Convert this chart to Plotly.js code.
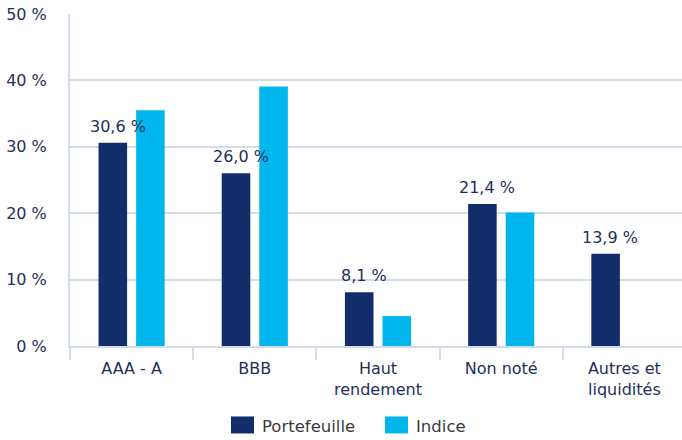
<!DOCTYPE html>
<html>
<head>
<meta charset="utf-8">
<script src="https://cdn.plot.ly/plotly-3.0.1.min.js"></script>
<style>
html,body{margin:0;padding:0;overflow:hidden;background:#fff;}
#chart{width:686px;height:440px;}
</style>
</head>
<body>
<div id="chart"></div>
<script>
const categories = ["AAA - A", "BBB", "Haut<br>rendement", "Non noté", "Autres et<br>liquidités"];
const portefeuille = [30.6, 26.0, 8.1, 21.4, 13.9];
const indice = [35.5, 39.1, 4.5, 20.1, null];
const seriesNames = ["Portefeuille", "Indice"];
const yTicks = [0, 10, 20, 30, 40, 50];
const yTickLabels = ["0 %", "10 %", "20 %", "30 %", "40 %", "50 %"];

const darkColor = "#122d69";
const lightColor = "#00b6ec";
const textColor = "#1f2f5c";
const gridColor = "#d3ddea";
const FONT = "DejaVu Sans, Verdana, sans-serif";

const traces = [
  {type: "bar", x: categories, y: portefeuille, name: seriesNames[0],
   marker: {color: darkColor}, hoverinfo: "none", showlegend: false},
  {type: "bar", x: categories, y: indice, name: seriesNames[1],
   marker: {color: lightColor}, hoverinfo: "none", showlegend: false}
];

const fmt = v => v.toFixed(1).replace(".", ",") + " %";
const annotations = categories.map((c, i) => ({
  x: c, y: portefeuille[i], xref: "x", yref: "y",
  text: fmt(portefeuille[i]), showarrow: false,
  xanchor: "center", yanchor: "bottom", xshift: -14, yshift: 5,
  font: {family: FONT, size: 16, color: textColor}
}));

// custom legend (paper coordinates)
const plotL = 70, plotW = 616, plotTop = 14.3, plotBot = 346.5;
const px = v => (v - plotL) / plotW;
const py = v => (plotBot - v) / (plotBot - plotTop);
const shapes = [
  {type: "rect", xref: "paper", yref: "paper", x0: px(231), x1: px(254), y0: py(434), y1: py(417),
   fillcolor: darkColor, line: {width: 0}},
  {type: "rect", xref: "paper", yref: "paper", x0: px(385), x1: px(408), y0: py(434), y1: py(417),
   fillcolor: lightColor, line: {width: 0}}
];
annotations.push(
  {xref: "paper", yref: "paper", x: px(260), y: py(427), text: seriesNames[0], showarrow: false,
   xanchor: "left", yanchor: "middle", font: {family: FONT, size: 16.5, color: "#3a3a3a"}},
  {xref: "paper", yref: "paper", x: px(414), y: py(427), text: seriesNames[1], showarrow: false,
   xanchor: "left", yanchor: "middle", font: {family: FONT, size: 16.5, color: "#3a3a3a"}}
);

const layout = {
  width: 686, height: 440,
  margin: {l: 70, r: 0, t: 14.3, b: 93.5},
  paper_bgcolor: "#fff", plot_bgcolor: "#fff",
  barmode: "group", bargap: 0.39, bargroupgap: 0.24,
  font: {family: FONT, size: 16, color: textColor},
  xaxis: {
    type: "category", tickson: "boundaries", ticks: "outside", ticklen: 12,
    tickcolor: gridColor, tickwidth: 2, showgrid: false,
    showline: true, linecolor: gridColor, linewidth: 2, ticklabelstandoff: 7,
    tickfont: {family: FONT, size: 16, color: textColor}, automargin: false
  },
  yaxis: {
    range: [0, 50], tickmode: "array", tickvals: yTicks, ticktext: yTickLabels,
    showgrid: true, gridcolor: gridColor, gridwidth: 2,
    showline: true, linecolor: gridColor, linewidth: 2,
    zeroline: false, ticks: "", ticklabelstandoff: 18,
    tickfont: {family: FONT, size: 16, color: textColor}, automargin: false
  },
  annotations: annotations,
  shapes: shapes,
  showlegend: false
};

Plotly.newPlot("chart", traces, layout, {displayModeBar: false, staticPlot: true});
</script>
</body>
</html>
